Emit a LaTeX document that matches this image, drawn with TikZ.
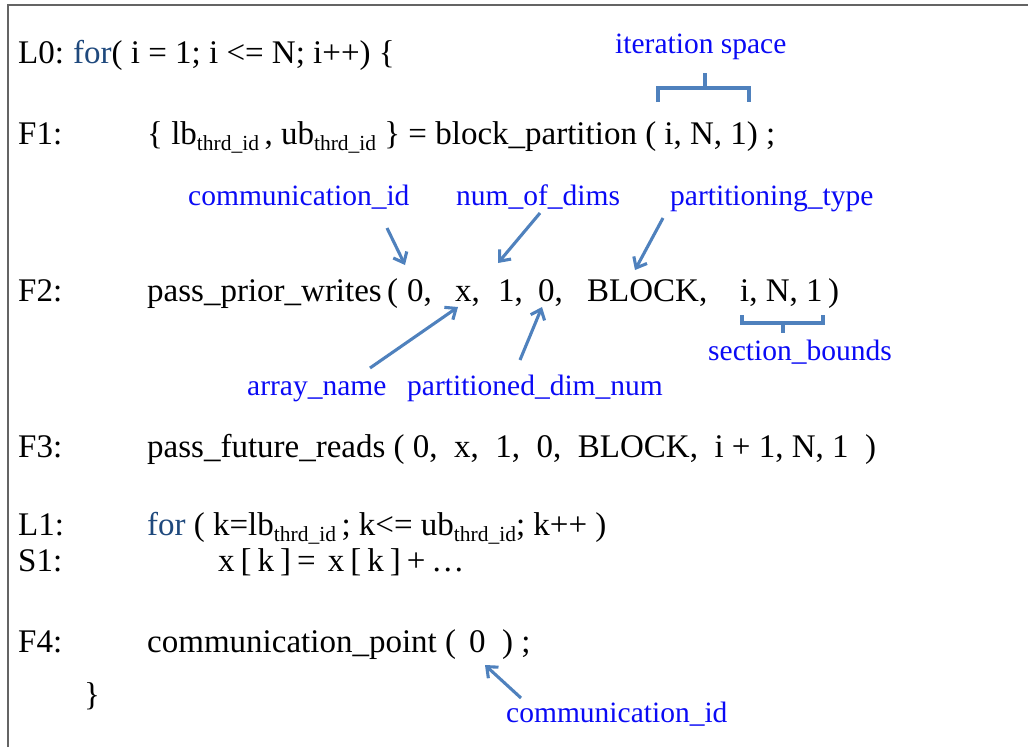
\documentclass[tikz,border=0pt]{standalone}
\usepackage{fontspec}
\setmainfont{Liberation Serif}
\usetikzlibrary{arrows.meta}
\definecolor{codeblue}{RGB}{31,73,125}
\definecolor{notecolor}{RGB}{10,10,245}
\definecolor{pointercolor}{RGB}{79,129,189}
\definecolor{framecolor}{RGB}{100,100,100}
% lowered, smaller "thrd_id" index
\newcommand\thrdsub{\raisebox{-6pt}{\fontsize{21.5}{22}\selectfont thrd\_id}}
% narrow word gap for the loop body
\newcommand\gp{\hspace{6pt}}
\begin{document}
\begin{tikzpicture}[x=1pt,y=-1pt,
  code/.style={anchor=base west,inner sep=0pt,font=\fontsize{33}{38}\selectfont},
  note/.style={anchor=base west,inner sep=0pt,text=notecolor,font=\fontsize{29.5}{34}\selectfont},
  pointer/.style={draw=pointercolor,line width=3.1pt,-{Straight Barb[length=9pt,width=15pt]}},
  bracket/.style={draw=pointercolor,line width=3.1pt}]
\useasboundingbox (0,0) rectangle (1028,747);
\draw[framecolor,line width=2pt] (8,747) -- (8,5) -- (1028,5);

% code lines
\node[code] (l0lab) at (18,63) {L0:};
\node[code] (l0) at (73,63) {\textcolor{codeblue}{for}( i = 1; i <= N; i++) \{};

\node[code] (f1lab) at (18,144) {F1:};
\node[code] (f1) at (147,144) {\{ lb\thrdsub\,, ub\thrdsub\ \} = block\_partition ( i, N, 1) ;};

\node[code] (f2lab) at (18,301) {F2:};
\node[code] (f2call) at (147,301) {pass\_prior\_writes};
\node[code] (f2open) at (387,301) {(};
\node[code] (f2id) at (407,301) {0,};
\node[code] (f2arr) at (455,301) {x,};
\node[code] (f2dims) at (498,301) {1,};
\node[code] (f2pdim) at (538,301) {0,};
\node[code] (f2type) at (587,301) {BLOCK,};
\node[code] (f2sect) at (740,301) {i, N, 1};
\node[code] (f2close) at (828,301) {)};

\node[code] (f3lab) at (18,457) {F3:};
\node[code] (f3) at (147,457) {pass\_future\_reads ( 0,\ \ x,\ \ 1,\ \ 0,\ \ BLOCK,\ \ i + 1, N, 1\ \ )};

\node[code] (l1lab) at (18,535) {L1:};
\node[code] (l1) at (147,535) {\textcolor{codeblue}{for} ( k=lb\thrdsub\,; k<= ub\thrdsub; k++ )};

\node[code] (s1lab) at (18,571) {S1:};
\node[code] (s1) at (218,571) {x\gp[\gp k\gp]\gp=\gp\gp x\gp[\gp k\gp]\gp+\gp …};

\node[code] (f4lab) at (18,652) {F4:};
\node[code] (f4call) at (147,652) {communication\_point (};
\node[code] (f4id) at (469,652) {0};
\node[code] (f4close) at (502,652) {) ;};

\node[code] (endbrace) at (84,705) {\}};

% annotations
\node[note] (itsp) at (615,53) {iteration space};
\node[note] (cidA) at (188,205) {communication\_id};
\node[note] (ndims) at (456,205) {num\_of\_dims};
\node[note] (ptype) at (670,205) {partitioning\_type};
\node[note] (sbounds) at (708,360) {section\_bounds};
\node[note] (aname) at (247,395) {array\_name};
\node[note] (pdnum) at (407,395) {partitioned\_dim\_num};
\node[note] (cidB) at (506,722) {communication\_id};

% pointer end points
\coordinate (cidAfrom) at (387,228);  \coordinate (cidAto) at (405,265);
\coordinate (ndimsfrom) at (540,213); \coordinate (ndimsto) at (498,263);
\coordinate (ptypefrom) at (663,218); \coordinate (ptypeto) at (635,270);
\coordinate (anamefrom) at (370,368); \coordinate (anameto) at (458,307);
\coordinate (pdnumfrom) at (520,360); \coordinate (pdnumto) at (542,307);
\coordinate (cidBfrom) at (521,698);  \coordinate (cidBto) at (485,665);

\draw[pointer] (cidAfrom) -- (cidAto);
\draw[pointer] (ndimsfrom) -- (ndimsto);
\draw[pointer] (ptypefrom) -- (ptypeto);
\draw[pointer] (anamefrom) -- (anameto);
\draw[pointer] (pdnumfrom) -- (pdnumto);
\draw[pointer] (cidBfrom) -- (cidBto);

% brackets
\draw[bracket] (658,102) |- (749,88) -- (749,102);
\draw[bracket] (705,88) -- (705,73);
\draw[bracket] (742,315) |- (823,323) -- (823,315);
\draw[bracket] (783,323) -- (783,333);
\end{tikzpicture}
\end{document}
